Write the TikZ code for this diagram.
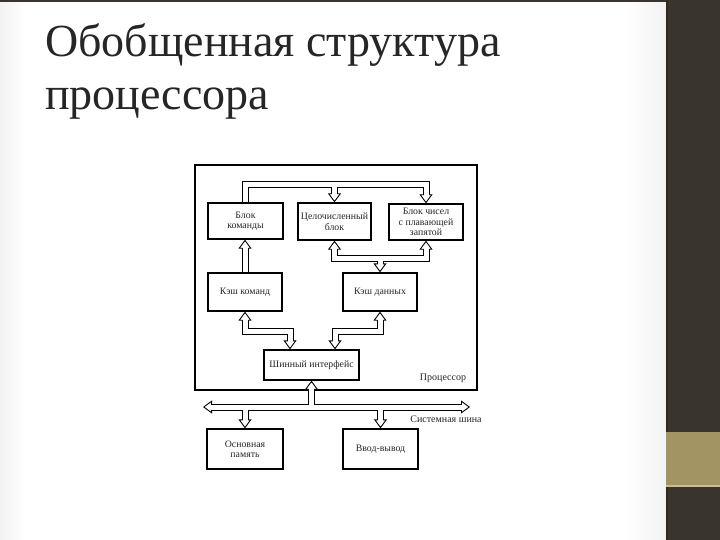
\documentclass[tikz,border=0pt]{standalone}
\usepackage{fontspec}
\setmainfont{Liberation Serif}
\usetikzlibrary{arrows.meta}
\pgfdeclarelayer{back}
\pgfdeclarelayer{bg}
\pgfsetlayers{back,bg,main}
\definecolor{panel}{HTML}{3A342E}
\definecolor{goldc}{HTML}{A39463}
\definecolor{goldl}{HTML}{C9BD8E}
\definecolor{titlec}{HTML}{262626}
\tikzset{
  box/.style={draw=black, line width=1.3pt, fill=white, inner sep=1pt, align=center,
    font=\fontsize{9.8}{10.4}\selectfont, text=black!85},
  lbl/.style={font=\fontsize{10}{11}\selectfont, text=black!85, inner sep=0pt},
  ttl/.style={anchor=base west, font=\fontsize{46}{53}\selectfont, text=titlec, inner sep=0pt},
  headtip/.tip={Triangle[length=9pt,width=13pt,line width=0.9pt,color=black,fill=white]},
  busout/.style={line width=7pt, black, line join=miter,
    tipE/.style={-headtip}, tipS/.style={headtip-}, tipB/.style={headtip-headtip}},
  busin/.style={line width=5pt, white, line join=miter,
    tipE/.style={shorten >=6pt}, tipS/.style={shorten <=6pt},
    tipB/.style={shorten >=6pt, shorten <=6pt}},
}
\newcommand\buspaths{%
  \draw[tipE] (bk.north) |- (fp.north |- tb) -- (fp.north);
  \draw[tipE] (cb.north |- tb) -- (cb.north);
  \draw[tipE] (kk.north) -- (kk.north |- bk.south);
  \draw[tipB] (cb.south) |- (fp.south |- db) -- (fp.south);
  \draw[tipE] (kd.north |- db) -- (kd.north);
  \draw[tipB] (kk.south) |- (sl |- cy) -- (sl);
  \draw[tipB] (kd.south) |- (sr |- cy) -- (sr);
  \draw[tipS] (si.south) -- (si.south |- sbL);
  \draw[tipB] (sbL) -- (sbR);
  \draw[tipE] (om.north |- sbL) -- (om.north);
  \draw[tipE] (vv.north |- sbL) -- (vv.north);
}
\begin{document}
\begin{tikzpicture}[x=1pt,y=-1pt]
\useasboundingbox (0,0) rectangle (720,540);
\begin{pgfonlayer}{back}
% slide background
\fill[white] (0,0) rectangle (666,540);
\shade[left color=black!5, right color=white] (0,0) rectangle (25,540);
\shade[left color=white, right color=black!5] (625,0) rectangle (666,540);
\fill[panel] (666,0) rectangle (720,540);
\fill[panel] (0,0) rectangle (666,2.5);
\fill[black!70!brown] (666,0) rectangle (668,540);
\fill[goldc] (666,432) rectangle (720,485);
\fill[goldl] (666,485) rectangle (720,487);
\end{pgfonlayer}

% title
\node[ttl] (t1) at (45,57) {Обобщенная структура};
\node[ttl] (t2) at (45,110) {процессора};

% blocks
\node[box, minimum width=75pt, minimum height=36pt] (bk) at (245.5,221) {Блок\\команды};
\node[box, minimum width=73pt, minimum height=37pt] (cb) at (334.5,221.5) {Целочисленный\\блок};
\node[box, minimum width=74pt, minimum height=36pt] (fp) at (426,222) {Блок чисел\\с плавающей\\запятой};
\node[box, minimum width=74pt, minimum height=38pt] (kk) at (245,292) {Кэш команд};
\node[box, minimum width=74pt, minimum height=38pt] (kd) at (380,292) {Кэш данных};
\node[box, minimum width=95pt, minimum height=30pt] (si) at (311.5,365) {Шинный интерфейс};
\node[box, minimum width=76pt, minimum height=40pt] (om) at (245,449) {Основная\\память};
\node[box, minimum width=75pt, minimum height=40pt] (vv) at (380.5,449) {Ввод-вывод};

\node[lbl] (proc) at (443,378) {Процессор};
\node[lbl] (sysb) at (446,419) {Системная шина};

% bus levels
\coordinate (tb) at (0,185);
\coordinate (db) at (0,258);
\coordinate (cy) at (0,331);
\coordinate (sbL) at (203,407);
\coordinate (sbR) at (470,407);
\coordinate (sl) at ([xshift=-21.5pt]si.north);
\coordinate (sr) at ([xshift=23.5pt]si.north);

\begin{pgfonlayer}{bg}
  \draw[line width=1.3pt] (195,165) rectangle (477,390);
  \begin{scope}[busout]\buspaths\end{scope}
  \begin{scope}[busin]\buspaths\end{scope}
\end{pgfonlayer}
\end{tikzpicture}
\end{document}
